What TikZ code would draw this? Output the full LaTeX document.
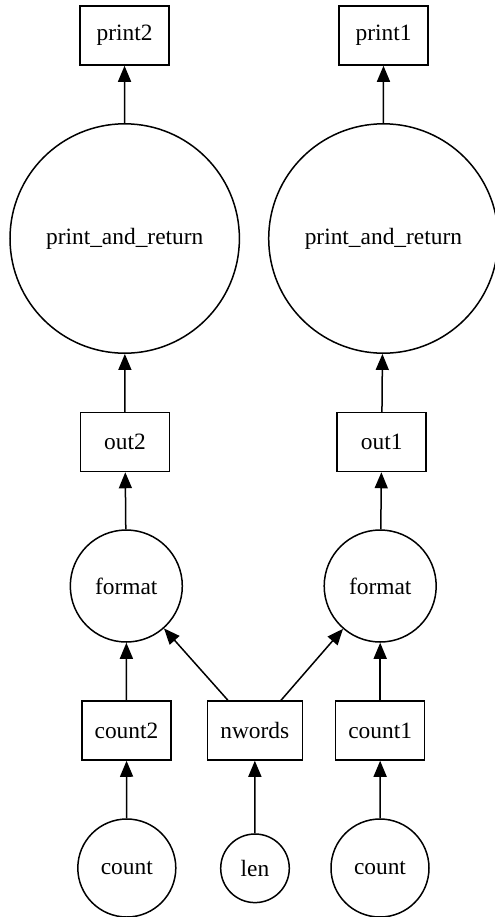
\documentclass[tikz,border=0pt]{standalone}
\usepackage{fontspec}
\setmainfont{Liberation Serif}
\usetikzlibrary{arrows.meta}
\begin{document}
\begin{tikzpicture}[x=0.5pt,y=-0.5pt,
  every node/.style={font=\fontsize{11.7}{14}\selectfont, inner sep=0pt, line width=0.75pt},
  box/.style={draw, rectangle, minimum width=44.5pt, minimum height=29.5pt},
  circ/.style={draw, circle},
  edge/.style={line width=0.75pt, -{Triangle[length=8pt,width=6.5pt]}}]
\useasboundingbox (0,0) rectangle (494,917);
\node[box] (print2) at (124.5,35.5) {print2};
\node[box] (print1) at (383.5,35.5) {print1};
\node[circ, minimum size=114.7pt] (pr2) at (124.7,238.5) {print\_and\_return};
\node[circ, minimum size=114.7pt] (pr1) at (383.4,238.5) {print\_and\_return};
\node[box] (out2) at (125,442) {out2};
\node[box] (out1) at (381.7,442) {out1};
\node[circ, minimum size=56pt] (fmt2) at (126.3,586) {format};
\node[circ, minimum size=56pt] (fmt1) at (380.2,586) {format};
\node[box] (count2) at (126.5,730.5) {count2};
\node[box, minimum width=47.5pt] (nwords) at (254.8,730.5) {nwords};
\node[box] (count1) at (380.2,730.5) {count1};
\node[circ, minimum size=49pt] (c2) at (126.8,868) {count};
\node[circ, minimum size=34.3pt] (len) at (255,868.3) {len};
\node[circ, minimum size=49pt] (c1) at (380,868) {count};
\draw[edge] (c2) -- (count2);
\draw[edge] (len) -- (nwords);
\draw[edge] (c1) -- (count1);
\draw[edge] (count2) -- (fmt2);
\draw[edge] (nwords) -- (fmt2);
\draw[edge] (nwords) -- (fmt1);
\draw[edge] (count1) -- (fmt1);
\draw[edge] (fmt2) -- (out2);
\draw[edge] (fmt1) -- (out1);
\draw[edge] (out2) -- (pr2);
\draw[edge] (out1) -- (pr1);
\draw[edge] (pr2) -- (print2);
\draw[edge] (pr1) -- (print1);
\end{tikzpicture}
\end{document}
